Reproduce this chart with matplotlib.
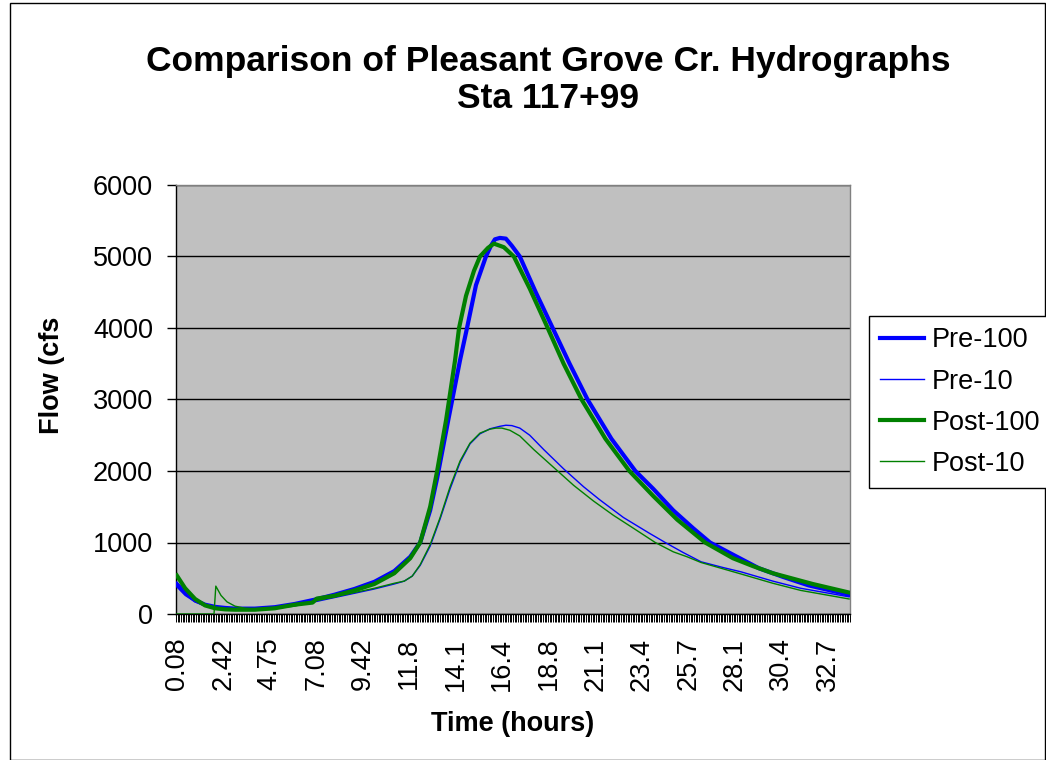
import matplotlib
matplotlib.use("Agg")
import matplotlib.pyplot as plt
from matplotlib.patches import Rectangle
from matplotlib.lines import Line2D

plt.rcParams['font.family'] = ['Liberation Sans', 'DejaVu Sans']

# ---------------- data ----------------
title_text = "Comparison of Pleasant Grove Cr. Hydrographs\nSta 117+99"
x_label = "Time (hours)"
y_label = "Flow (cfs"
series_names = ["Pre-100", "Pre-10", "Post-100", "Post-10"]

tick_labels = ["0.08", "2.42", "4.75", "7.08", "9.42", "11.8", "14.1", "16.4",
               "18.8", "21.1", "23.4", "25.7", "28.1", "30.4", "32.7"]
step_hours = 1.0 / 12.0       # 5-minute category step
n_categories = 406
y_ticks = [0, 1000, 2000, 3000, 4000, 5000, 6000]

t_pre100 = [0.08, 0.5, 1.0, 1.5, 2.0, 2.5, 3.0, 4.0, 5.0, 6.0, 7.0, 8.0, 9.0,
            10.0, 11.0, 11.8, 12.3, 12.8, 13.15, 13.7, 14.3, 14.65, 15.1, 15.6,
            15.85, 16.05, 16.3, 16.6, 16.9, 17.3, 18.1, 18.95, 19.8, 20.7, 21.9,
            23.1, 24.0, 25.0, 26.0, 26.85, 28.0, 29.3, 30.5, 31.8, 33.83]
pre100 = [420, 300, 190, 130, 100, 85, 75, 75, 95, 140, 200, 270, 350,
          450, 600, 800, 1000, 1450, 1900, 2700, 3550, 4000, 4600, 5000,
          5150, 5240, 5260, 5250, 5150, 5000, 4500, 4000, 3500, 3000, 2450,
          2000, 1750, 1450, 1200, 1000, 830, 640, 520, 400, 270]

t_post100 = [0.08, 0.5, 1.0, 1.5, 2.0, 2.5, 3.0, 4.0, 5.0, 6.0, 6.9, 7.1, 8.0,
             9.0, 10.0, 11.0, 11.8, 12.3, 12.8, 13.15, 13.6, 14.05, 14.25,
             14.6, 15.0, 15.3, 15.7, 16.0, 16.5, 17.0, 17.8, 18.7, 19.5, 20.4,
             21.6, 22.8, 24.0, 25.2, 26.6, 28.0, 29.0, 30.0, 32.0, 33.83]
post100 = [540, 360, 210, 120, 80, 65, 60, 60, 80, 130, 160, 215, 255,
           330, 420, 570, 780, 1000, 1500, 2000, 2714, 3550, 4000,
           4450, 4800, 5000, 5120, 5180, 5130, 5000, 4550, 4000, 3500, 3000,
           2450, 2000, 1650, 1320, 1000, 780, 670, 570, 420, 300]

t_pre10 = [0.08, 0.5, 1.0, 1.5, 2.0, 2.5, 3.0, 4.0, 5.0, 6.0, 7.0, 8.0, 9.0,
           10.0, 11.0, 11.5, 11.9, 12.3, 12.8, 13.3, 13.8, 14.3, 14.8, 15.3,
           15.8, 16.3, 16.6, 16.9, 17.3, 17.8, 18.5, 19.5, 20.5, 21.3, 22.5,
           23.8, 24.6, 25.5, 26.4, 27.5, 28.4, 30.0, 31.4, 33.83]
pre10 = [380, 260, 170, 115, 90, 75, 70, 70, 85, 120, 170, 230, 290,
         350, 420, 460, 530, 680, 950, 1330, 1750, 2120, 2380, 2520,
         2590, 2625, 2640, 2635, 2600, 2500, 2300, 2030, 1780, 1600, 1350,
         1130, 1000, 860, 730, 650, 590, 460, 360, 240]

t_post10 = [0.08, 1.0, 1.95, 2.04, 2.3, 2.6, 3.0, 3.5, 4.0, 5.0, 6.0, 7.0, 8.0,
            9.0, 10.0, 11.0, 11.5, 11.9, 12.3, 12.8, 13.3, 13.8, 14.3, 14.8,
            15.3, 15.8, 16.1, 16.4, 16.8, 17.3, 18.0, 19.0, 20.0, 21.0, 22.0,
            23.0, 24.1, 25.0, 25.7, 26.4, 27.4, 28.4, 30.0, 31.4, 33.83]
post10 = [0, 0, 0, 390, 260, 170, 110, 80, 70, 80, 110, 180, 240,
          300, 360, 430, 460, 530, 690, 970, 1350, 1780, 2140, 2390,
          2530, 2585, 2600, 2600, 2570, 2490, 2300, 2050, 1800, 1580, 1380,
          1200, 1000, 870, 800, 720, 640, 560, 430, 330, 210]

# ---------------- figure ----------------
W, H = 1046, 760
fig = plt.figure(figsize=(W / 100, H / 100), dpi=100)
fig.patch.set_facecolor("white")

ax = fig.add_axes([176 / W, 1 - 614 / H, (850 - 176) / W, (614 - 185) / H])
ax.set_facecolor("#C0C0C0")

blue = "#0000FF"
green = "#008000"
ax.plot(t_pre100, pre100, color=blue, lw=3.0, label=series_names[0], zorder=3)
ax.plot(t_pre10, pre10, color=blue, lw=1.0, label=series_names[1], zorder=3)
ax.plot(t_post100, post100, color=green, lw=3.0, label=series_names[2], zorder=4)
ax.plot(t_post10, post10, color=green, lw=1.0, label=series_names[3], zorder=4)

x_left = step_hours / 2
x_right = step_hours * n_categories + step_hours / 2
ax.set_xlim(x_left, x_right)
ax.set_ylim(0, 6000)

major_pos = [step_hours * (1 + 28 * i) for i in range(len(tick_labels))]
ax.set_xticks(major_pos)
ax.set_xticklabels(tick_labels, rotation=90, fontsize=19.5)
minor_pos = [x_left + step_hours * k for k in range(n_categories + 1)]
ax.set_xticks(minor_pos, minor=True)
ax.tick_params(axis="x", which="major", length=0, pad=17)
ax.tick_params(axis="x", which="minor", length=6, width=0.7, color="black",
               direction="out")

ax.set_yticks(y_ticks)
ax.set_yticklabels([str(v) for v in y_ticks], fontsize=19.5)
ax.tick_params(axis="y", which="major", length=6.5, width=1, color="black",
               pad=10)

ax.grid(axis="y", color="black", lw=1.0)
ax.set_axisbelow(True)
for side in ["top", "right"]:
    ax.spines[side].set_color("#808080")
    ax.spines[side].set_linewidth(1.0)
for side in ["left", "bottom"]:
    ax.spines[side].set_color("black")
    ax.spines[side].set_linewidth(1.0)

fig.text(548 / W, 1 - 80 / H, title_text, ha="center", va="center",
         fontsize=25.5, fontweight="bold", linespacing=1.18)
fig.text(513 / W, 1 - 724 / H, x_label, ha="center", va="center",
         fontsize=19.5, fontweight="bold")
fig.text(52 / W, 1 - 375 / H, y_label, ha="center", va="center",
         fontsize=19.5, fontweight="bold", rotation=90)

handles = [Line2D([], [], color=blue, lw=3.0), Line2D([], [], color=blue, lw=1.0),
           Line2D([], [], color=green, lw=3.0), Line2D([], [], color=green, lw=1.0)]
leg = fig.legend(handles, series_names, loc="upper left",
                 bbox_to_anchor=(869 / W, 1 - 316 / H), borderaxespad=0,
                 fontsize=19.5, frameon=True, fancybox=False, framealpha=1,
                 edgecolor="black", handlelength=1.6, handletextpad=0.3,
                 labelspacing=0.56, borderpad=0.42)
leg.get_frame().set_linewidth(1.0)

fig.patches.append(Rectangle((9.5 / W, 0.5 / H), (W - 11) / W, (H - 3) / H,
                             transform=fig.transFigure, fill=False,
                             edgecolor="black", lw=1.0))

fig.savefig("out.png", dpi=100)
